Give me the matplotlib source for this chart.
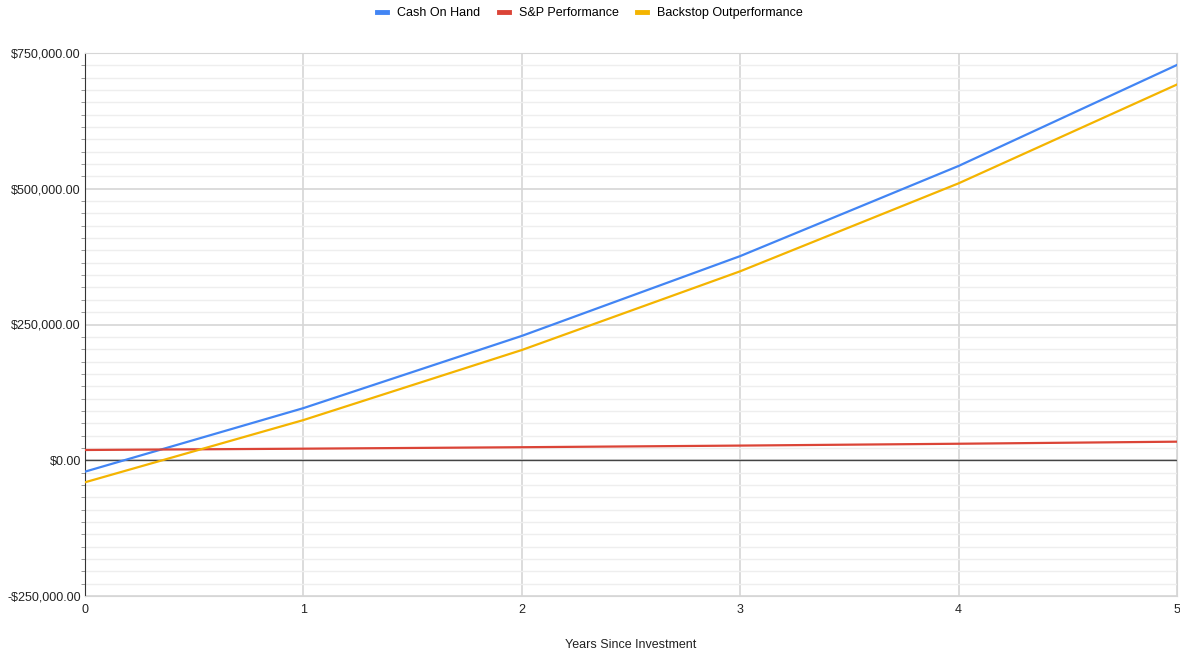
import matplotlib
matplotlib.use("Agg")
import matplotlib.pyplot as plt
from matplotlib.ticker import FuncFormatter, MultipleLocator
import numpy as np

plt.rcParams['font.family'] = ['Liberation Sans', 'DejaVu Sans']

years = [0, 1, 2, 3, 4, 5]
cash_on_hand = [-21000, 96000, 229000, 376000, 542000, 728000]
sp_performance = [18900, 21300, 24000, 27000, 30400, 34200]
backstop = [-40600, 74000, 203000, 348000, 510000, 692000]
y_ticks = [-250000, 0, 250000, 500000, 750000]

fig = plt.figure(figsize=(11.8, 6.52), dpi=100)
ax = fig.add_axes([85/1180, 1-596/652, (1177-85)/1180, (596-53)/652])

ax.set_xlim(0, 5)
ax.set_ylim(-250000, 750000)
ax.set_yticks(y_ticks)
ax.yaxis.set_minor_locator(MultipleLocator(250000/11))
ax.set_xticks(years)
ax.yaxis.set_major_formatter(FuncFormatter(lambda v, p: ('-$' if v < 0 else '$') + f"{abs(v):,.2f}"))

ax.grid(which='major', axis='both', color='#d6d6d6', lw=1.2)
ax.grid(which='minor', axis='y', color='#eeeeee', lw=1.0)
ax.set_axisbelow(True)
ax.axhline(0, color='#444444', lw=1.0, zorder=1.5)

l1, = ax.plot(years, cash_on_hand, color='#4285f4', lw=1.6, label='Cash On Hand', zorder=3)
l2, = ax.plot(years, sp_performance, color='#db4437', lw=1.6, label='S&P Performance', zorder=3)
l3, = ax.plot(years, backstop, color='#f4b400', lw=1.6, label='Backstop Outperformance', zorder=3)

for s in ['top', 'right', 'bottom']:
    ax.spines[s].set_color('#d6d6d6')
ax.spines['left'].set_color('#333333')
ax.tick_params(axis='both', which='both', length=0, labelsize=9, colors='#222222', pad=5)
ax.tick_params(axis='y', which='major', pad=3)
ax.tick_params(axis='y', which='minor', length=3, color='#888888', direction='out')
ax.tick_params(axis='x', pad=6)

ax.set_xlabel('Years Since Investment', fontsize=9, color='#222222', labelpad=16)

fig.legend(handles=[l1, l2, l3], loc='center', bbox_to_anchor=(0.5, 1-13/652), ncol=3,
           frameon=False, fontsize=9, handlelength=0.8, handletextpad=0.8, columnspacing=1.5)
for h in fig.legends[0].get_lines():
    h.set_linewidth(3.5)

fig.savefig('out.png', dpi=100)
